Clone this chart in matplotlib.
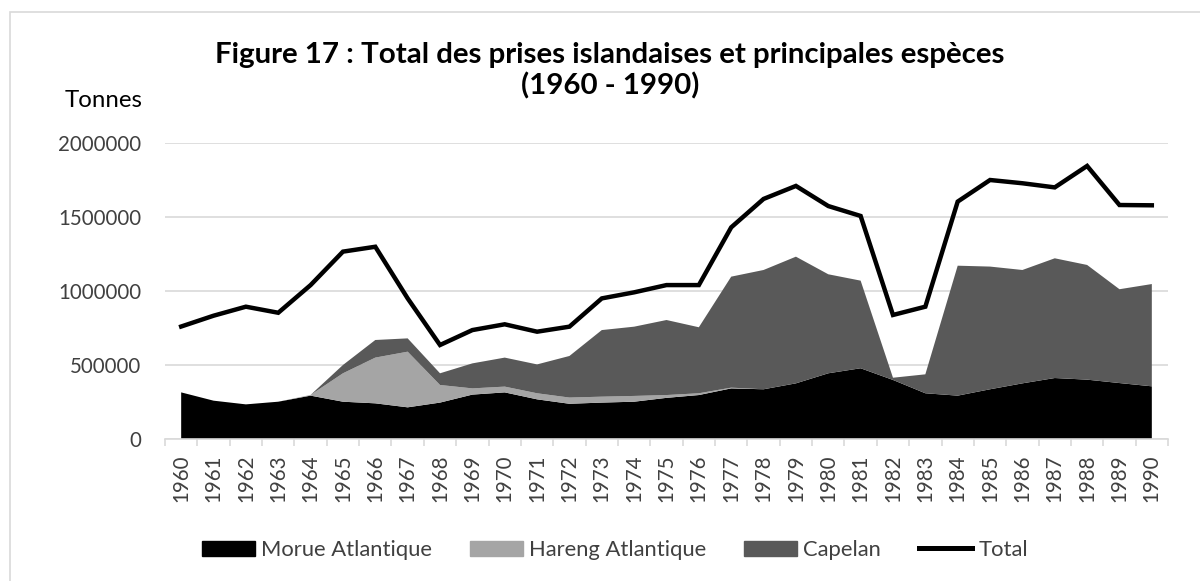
import numpy as np
import matplotlib.pyplot as plt
from matplotlib.patches import Rectangle, Patch
from matplotlib.lines import Line2D

plt.rcParams['font.family'] = ['Lato', 'DejaVu Sans']

# data (tonnes)
years = list(range(1960, 1991))
morue = [315000, 259000, 234000, 252000, 293000, 252000, 241000, 214000, 246000, 300000,
         315000, 268000, 238000, 246000, 252000, 278000, 297000, 342000, 336000, 376000,
         444000, 478000, 399000, 309000, 293000, 336000, 376000, 412000, 401000, 378000,
         356000]
hareng = [0, 0, 0, 0, 5000, 192000, 309000, 376000, 119000, 42000,
          39000, 41000, 42000, 40000, 39000, 19000, 12000, 5000, 0, 0,
          0, 0, 0, 0, 0, 0, 0, 0, 0, 0,
          0]
capelan = [0, 0, 0, 0, 0, 56000, 119000, 90000, 79000, 169000,
           196000, 195000, 281000, 450000, 468000, 507000, 446000, 750000, 806000, 856000,
           669000, 592000, 15000, 128000, 878000, 829000, 766000, 809000, 775000, 634000,
           691000]
total = [760000, 833000, 894000, 853000, 1040000, 1266000, 1299000, 950000, 635000, 736000,
         775000, 725000, 759000, 950000, 991000, 1040000, 1040000, 1430000, 1622000, 1710000,
         1574000, 1507000, 838000, 894000, 1604000, 1750000, 1728000, 1700000, 1845000, 1581000,
         1579000]
ytick_vals = [0, 500000, 1000000, 1500000, 2000000]
labels = ["Morue Atlantique", "Hareng Atlantique", "Capelan", "Total"]

col_morue = "#000000"
col_hareng = "#a5a5a5"
col_capelan = "#595959"
grid_col = "#d9d9d9"
text_col = "#404040"

W, H = 1200, 581
fig = plt.figure(figsize=(W / 100, H / 100), dpi=100)
renderer = fig.canvas.get_renderer()


def fit_size(s, target_px, **kw):
    # font size (pt) that makes string s about target_px wide
    t = fig.text(0, 0, s, fontsize=10, **kw)
    w = t.get_window_extent(renderer).width
    t.remove()
    return 10 * target_px / w


title_fs = fit_size("Figure 17 : Total des prises islandaises et principales espèces", 794,
                    fontweight="bold")
tick_fs = fit_size("2000000", 83)
unit_fs = fit_size("Tonnes", 78)
leg_fs = fit_size("Morue Atlantique", 172)
px = 100 / 72  # pixels per point

# outer chart border
fig.patches.append(Rectangle((10 / W, -0.1), 2, 1.1 - 12 / H, transform=fig.transFigure,
                             fill=False, edgecolor=grid_col, linewidth=1.2))

ax = fig.add_axes([165 / W, 1 - 439 / H, (1168 - 165) / W, (439 - 143) / H])
x = np.arange(len(years))
ax.stackplot(x, morue, hareng, capelan,
             colors=[col_morue, col_hareng, col_capelan], linewidth=0, zorder=2)
ax.plot(x, total, color="black", linewidth=3.2, solid_joinstyle="miter", zorder=3)

ax.set_xlim(-0.5, len(years) - 0.5)
ax.set_ylim(0, 2000000)
ax.set_yticks(ytick_vals)
ax.set_yticklabels([str(v) for v in ytick_vals], fontsize=tick_fs, color=text_col)
ax.yaxis.grid(True, color=grid_col, linewidth=1.2, zorder=0)
ax.set_axisbelow(True)
ax.tick_params(axis="y", length=0, pad=24 / px)

ax.set_xticks(x)
ax.set_xticklabels([str(y) for y in years], rotation=90, fontsize=tick_fs, color=text_col)
ax.set_xticks(np.arange(-0.5, len(years)), minor=True)
ax.tick_params(axis="x", which="major", length=0, pad=15 / px)
ax.tick_params(axis="x", which="minor", length=7 / px, color=grid_col, width=1.2)

for s in ["top", "right", "left"]:
    ax.spines[s].set_visible(False)
ax.spines["bottom"].set_color(grid_col)
ax.spines["bottom"].set_linewidth(1.2)

fig.text(610 / W, 1 - 63 / H, "Figure 17 : Total des prises islandaises et principales espèces",
         ha="center", va="baseline", fontsize=title_fs, fontweight="bold")
fig.text(610 / W, 1 - 94 / H, "(1960 - 1990)",
         ha="center", va="baseline", fontsize=title_fs, fontweight="bold")
fig.text(65 / W, 1 - 107 / H, "Tonnes", ha="left", va="baseline", fontsize=unit_fs)

handles = [Patch(color=col_morue), Patch(color=col_hareng), Patch(color=col_capelan),
           Line2D([0], [0], color="black", linewidth=3.6)]
leg_px = leg_fs * px
fig.legend(handles, labels, loc="center", bbox_to_anchor=(615 / W, 1 - 550 / H), ncol=4,
           frameon=False, fontsize=leg_fs, labelcolor=text_col,
           handlelength=53 / leg_px, handleheight=15 / leg_px,
           handletextpad=6 / leg_px, columnspacing=38 / leg_px,
           borderpad=0, borderaxespad=0)

fig.savefig("out.png", dpi=100)
